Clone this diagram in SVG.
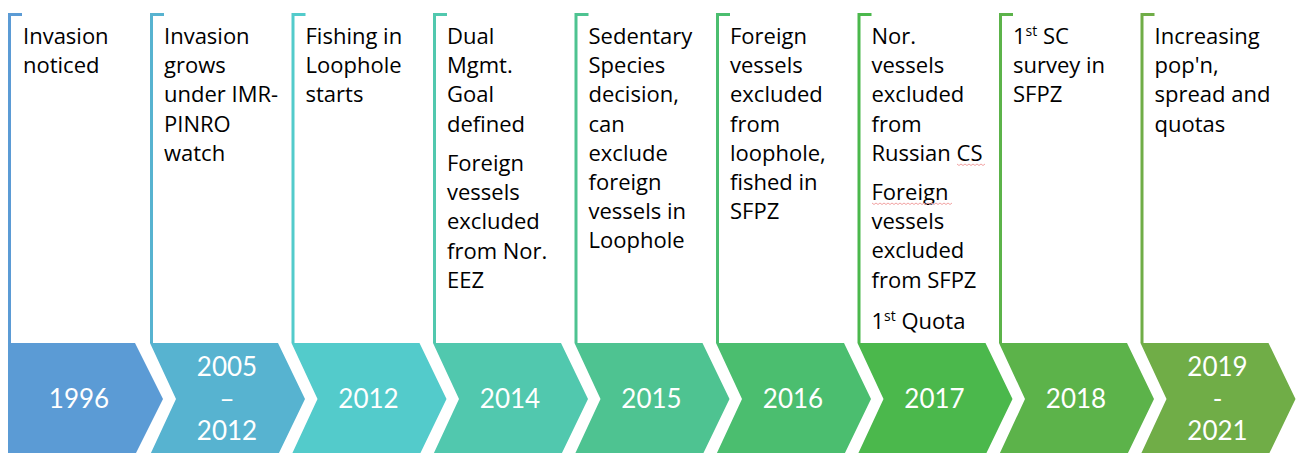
<svg xmlns="http://www.w3.org/2000/svg" width="1296" height="453" viewBox="0 0 1296 453">
<style>
.t{font-family:"Open Sans","Liberation Sans",sans-serif;font-size:22px;fill:#000}
.y{font-family:Lato,"Open Sans",sans-serif;font-size:26px;fill:#fff;text-anchor:middle}
.ln{fill:none;stroke-width:3}
.sq{fill:none;stroke:#F2A3A3;stroke-width:1}
.sup{font-size:14px}
</style>
<rect width="1296" height="453" fill="#fff"/>
<g id="connectors">
<path class="ln" stroke="#5B9BD5" d="M22 14.5H9.5V343"/>
<path class="ln" stroke="#57B3D0" d="M164 14.5H151.5V343"/>
<path class="ln" stroke="#53CBCB" d="M305.5 14.5H293V343"/>
<path class="ln" stroke="#51C8AE" d="M447 14.5H434.5V343"/>
<path class="ln" stroke="#4EC391" d="M588.5 14.5H576V343"/>
<path class="ln" stroke="#4BBE6F" d="M730 14.5H717.5V343"/>
<path class="ln" stroke="#4BB84C" d="M871.5 14.5H859V343"/>
<path class="ln" stroke="#5CB34A" d="M1013 14.5H1000.5V343"/>
<path class="ln" stroke="#70AD47" d="M1154.5 14.5H1142V343"/>
</g>
<g id="n1996">
<polygon fill="#5B9BD5" points="8,343 135,343 163,399 135,455 8,455"/>
<text class="y" x="79" y="408">1996</text>
<text class="t"><tspan x="23" y="44">Invasion</tspan><tspan x="23" y="73.2">noticed</tspan></text>
</g>
<g id="n2005">
<polygon fill="#57B3D0" points="150,343 278,343 305,399 278,455 150,455 176,399"/>
<text class="y"><tspan x="227" y="376">2005</tspan><tspan x="227" y="408">–</tspan><tspan x="227" y="440">2012</tspan></text>
<text class="t"><tspan x="164" y="44">Invasion</tspan><tspan x="164" y="73.2">grows</tspan><tspan x="164" y="102.4">under IMR-</tspan><tspan x="164" y="131.6">PINRO</tspan><tspan x="164" y="160.8">watch</tspan></text>
</g>
<g id="n2012">
<polygon fill="#53CBCB" points="291.5,343 419.5,343 446.5,399 419.5,455 291.5,455 317.5,399"/>
<text class="y" x="368.5" y="408">2012</text>
<text class="t"><tspan x="305.5" y="44">Fishing in</tspan><tspan x="305.5" y="73.2">Loophole</tspan><tspan x="305.5" y="102.4">starts</tspan></text>
</g>
<g id="n2014">
<polygon fill="#51C8AE" points="433,343 561,343 588,399 561,455 433,455 459,399"/>
<text class="y" x="510" y="408">2014</text>
<text class="t"><tspan x="447" y="44">Dual</tspan><tspan x="447" y="73.2">Mgmt.</tspan><tspan x="447" y="102.4">Goal</tspan><tspan x="447" y="131.6">defined</tspan><tspan x="447" y="171">Foreign</tspan><tspan x="447" y="200.2">vessels</tspan><tspan x="447" y="229.4">excluded</tspan><tspan x="447" y="258.6">from Nor.</tspan><tspan x="447" y="287.8">EEZ</tspan></text>
</g>
<g id="n2015">
<polygon fill="#4EC391" points="574.5,343 702.5,343 729.5,399 702.5,455 574.5,455 600.5,399"/>
<text class="y" x="651.5" y="408">2015</text>
<text class="t"><tspan x="588.5" y="44">Sedentary</tspan><tspan x="588.5" y="73.2">Species</tspan><tspan x="588.5" y="102.4">decision,</tspan><tspan x="588.5" y="131.6">can</tspan><tspan x="588.5" y="160.8">exclude</tspan><tspan x="588.5" y="190">foreign</tspan><tspan x="588.5" y="219.2">vessels in</tspan><tspan x="588.5" y="248.4">Loophole</tspan></text>
</g>
<g id="n2016">
<polygon fill="#4BBE6F" points="716,343 844,343 871,399 844,455 716,455 742,399"/>
<text class="y" x="793" y="408">2016</text>
<text class="t"><tspan x="730" y="44">Foreign</tspan><tspan x="730" y="73.2">vessels</tspan><tspan x="730" y="102.4">excluded</tspan><tspan x="730" y="131.6">from</tspan><tspan x="730" y="160.8">loophole,</tspan><tspan x="730" y="190">fished in</tspan><tspan x="730" y="219.2">SFPZ</tspan></text>
</g>
<g id="n2017">
<polygon fill="#4BB84C" points="857.5,343 985.5,343 1012.5,399 985.5,455 857.5,455 883.5,399"/>
<text class="y" x="934.5" y="408">2017</text>
<text class="t"><tspan x="871.5" y="44">Nor.</tspan><tspan x="871.5" y="73.2">vessels</tspan><tspan x="871.5" y="102.4">excluded</tspan><tspan x="871.5" y="131.6">from</tspan><tspan x="871.5" y="160.8">Russian CS</tspan><tspan x="871.5" y="200">Foreign</tspan><tspan x="871.5" y="229.2">vessels</tspan><tspan x="871.5" y="258.4">excluded</tspan><tspan x="871.5" y="287.6">from SFPZ</tspan><tspan x="871.5" y="329">1</tspan><tspan class="sup" dy="-8">st</tspan><tspan dy="8"> Quota</tspan></text>
<path class="sq" d="M957 164l2 1.5 2-1.5 2 1.5 2-1.5 2 1.5 2-1.5 2 1.5 2-1.5 2 1.5 2-1.5 2 1.5 2-1.5 2 1.5 2-1.5"/>
<path class="sq" d="M872 203l2 1.5 2-1.5 2 1.5 2-1.5 2 1.5 2-1.5 2 1.5 2-1.5 2 1.5 2-1.5 2 1.5 2-1.5 2 1.5 2-1.5 2 1.5 2-1.5 2 1.5 2-1.5 2 1.5 2-1.5 2 1.5 2-1.5 2 1.5 2-1.5 2 1.5 2-1.5 2 1.5 2-1.5 2 1.5 2-1.5 2 1.5 2-1.5 2 1.5 2-1.5 2 1.5 2-1.5 2 1.5 2-1.5 2 1.5 2-1.5"/>
</g>
<g id="n2018">
<polygon fill="#5CB34A" points="999,343 1127,343 1154,399 1127,455 999,455 1025,399"/>
<text class="y" x="1076" y="408">2018</text>
<text class="t"><tspan x="1013" y="44">1</tspan><tspan class="sup" dy="-8">st</tspan><tspan dy="8"> SC</tspan><tspan x="1013" y="73.2">survey in</tspan><tspan x="1013" y="102.4">SFPZ</tspan></text>
</g>
<g id="n2019">
<polygon fill="#70AD47" points="1140.5,343 1268.5,343 1295.5,399 1268.5,455 1140.5,455 1166.5,399"/>
<text class="y"><tspan x="1217.5" y="376">2019</tspan><tspan x="1217.5" y="408">-</tspan><tspan x="1217.5" y="440">2021</tspan></text>
<text class="t"><tspan x="1154.5" y="44">Increasing</tspan><tspan x="1154.5" y="73.2">pop'n,</tspan><tspan x="1154.5" y="102.4">spread and</tspan><tspan x="1154.5" y="131.6">quotas</tspan></text>
</g>
</svg>
